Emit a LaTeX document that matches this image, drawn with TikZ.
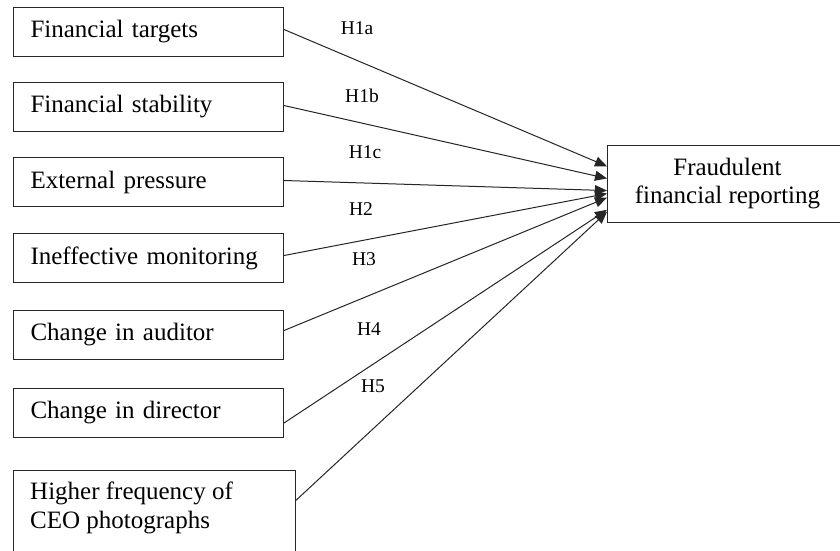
\documentclass[tikz,border=0pt]{standalone}
\usepackage{fontspec}
\setmainfont{Liberation Serif}
\usetikzlibrary{arrows.meta,calc}
\begin{document}
\begin{tikzpicture}[x=1pt,y=-1pt,
  srcbox/.style={draw=black!85, line width=1pt, anchor=north west, minimum height=49pt,
    text width=236pt, inner xsep=17pt, inner ysep=0pt, align=left,
    font=\fontsize{25}{28.5}\selectfont},
  tallbox/.style={draw=black!85, line width=1pt, anchor=north west, minimum width=282pt,
    minimum height=110pt, inner sep=0pt},
  boxtext/.style={anchor=north west, align=left, inner sep=0pt,
    font=\fontsize{25}{28.5}\selectfont},
  tgtbox/.style={draw=black!85, line width=1pt, anchor=north west, minimum width=240pt,
    minimum height=77pt, align=center, inner sep=0pt,
    font=\fontsize{25}{28}\selectfont},
  hyp/.style={font=\fontsize{19.5}{20}\selectfont, inner sep=0pt},
  link/.style={draw=black!85, line width=1pt, -{Triangle[length=12pt,width=10pt]}}
]
\useasboundingbox (0,0) rectangle (840,550);
\fill[white] (0,0) rectangle (840,550);

\node[srcbox] (ft) at (13,7)   {Financial targets};
\node[srcbox] (fs) at (13,82)  {Financial stability};
\node[srcbox] (ep) at (13,157) {External pressure};
\node[srcbox] (im) at (13,233) {Ineffective monitoring};
\node[srcbox] (ca) at (13,310) {Change in auditor};
\node[srcbox] (cd) at (13,388) {Change in director};
\node[tallbox] (ceo) at (13,470) {};
\node[boxtext] (ceotext) at (30,482) {Higher frequency of\\CEO photographs};

\node[tgtbox] (fr) at (607,145) {Fraudulent\\financial reporting};

\draw[link] ($(ft.north east)!0.45!(ft.south east)$) -- ($(fr.north west)!0.273!(fr.south west)$);
\draw[link] ($(fs.north east)!0.47!(fs.south east)$) -- ($(fr.north west)!0.429!(fr.south west)$);
\draw[link] ($(ep.north east)!0.47!(ep.south east)$) -- ($(fr.north west)!0.584!(fr.south west)$);
\draw[link] ($(im.north east)!0.45!(im.south east)$) -- ($(fr.north west)!0.623!(fr.south west)$);
\draw[link] ($(ca.north east)!0.41!(ca.south east)$) -- ($(fr.north west)!0.675!(fr.south west)$);
\draw[link] ($(cd.north east)!0.70!(cd.south east)$) -- ($(fr.north west)!0.831!(fr.south west)$);
\draw[link] ($(ceo.north east)!0.273!(ceo.south east)$) -- ($(fr.north west)!0.857!(fr.south west)$);

\node[hyp] (h1a) at (357,28)  {H1a};
\node[hyp] (h1b) at (362,96)  {H1b};
\node[hyp] (h1c) at (365,152) {H1c};
\node[hyp] (h2)  at (361,209) {H2};
\node[hyp] (h3)  at (364,259) {H3};
\node[hyp] (h4)  at (369,329) {H4};
\node[hyp] (h5)  at (373,386) {H5};
\end{tikzpicture}
\end{document}
